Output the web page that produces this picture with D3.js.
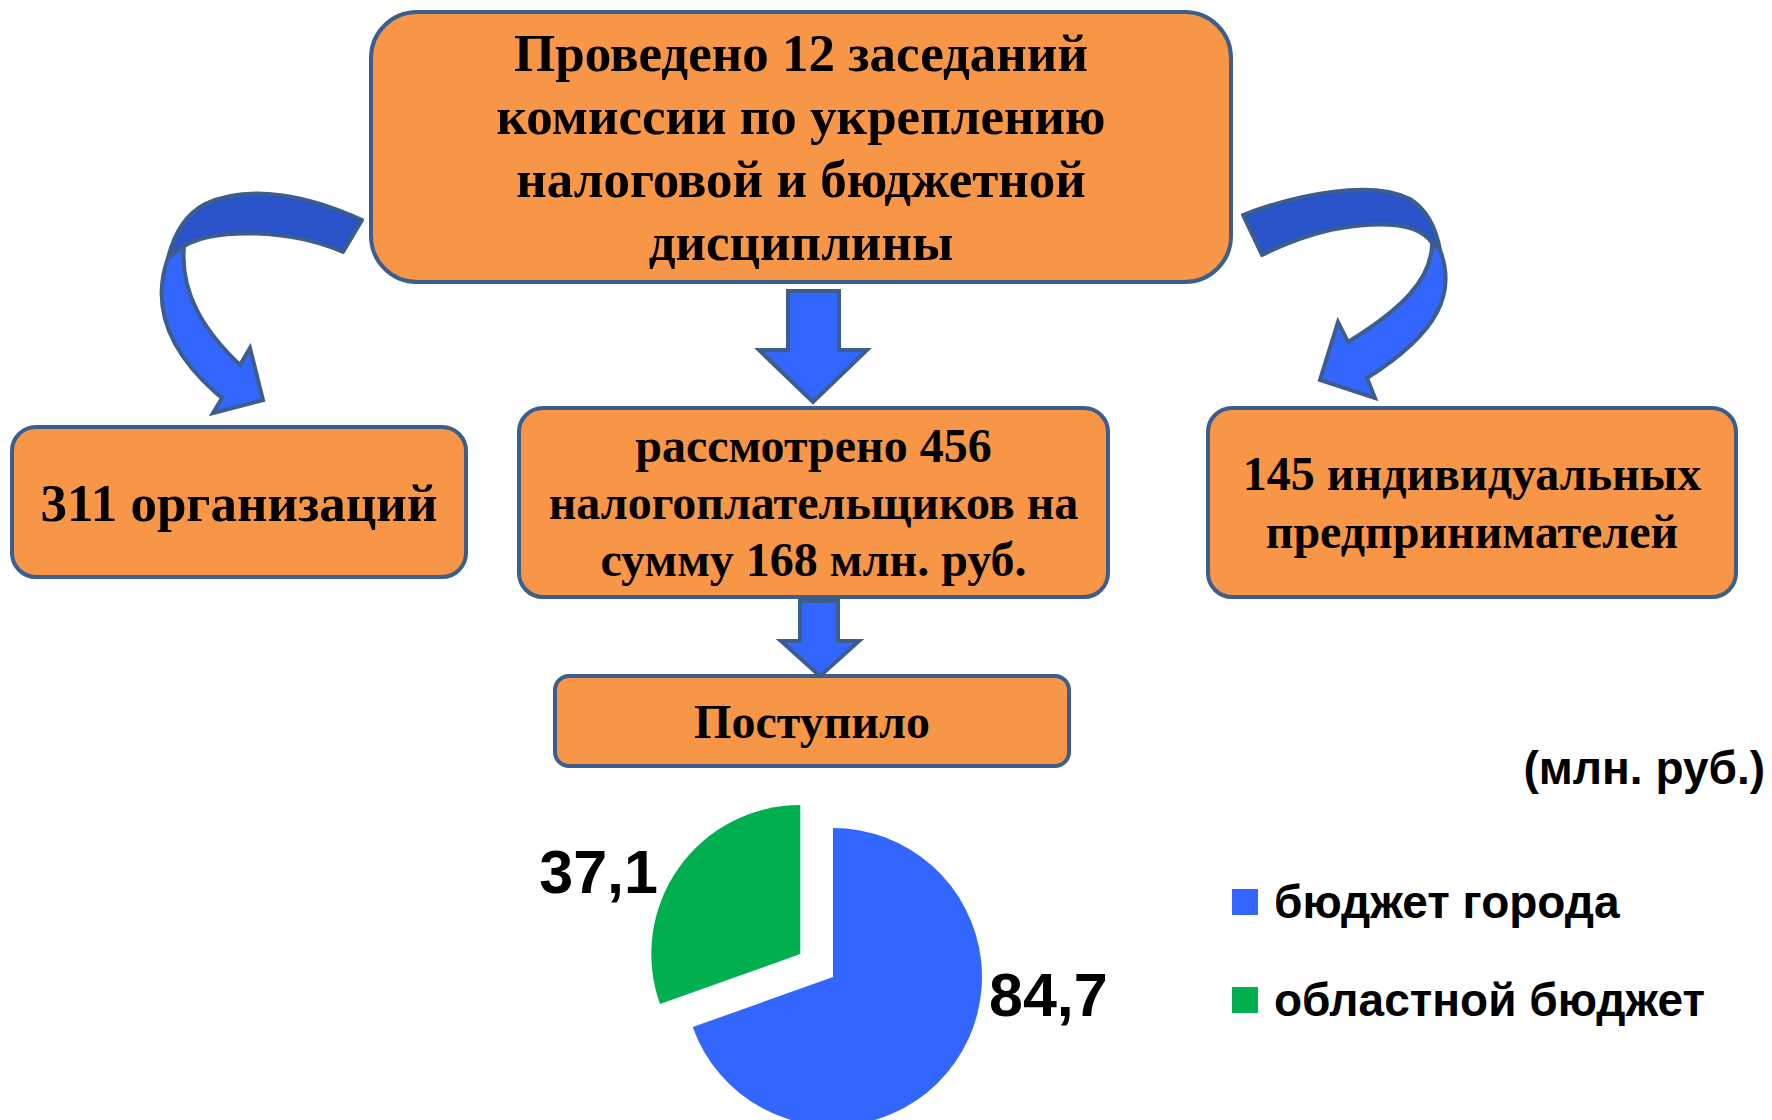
<html>
<head>
<meta charset="utf-8">
<script src="https://cdn.jsdelivr.net/npm/d3@7/dist/d3.min.js"></script>
<style>
  body { margin: 0; background: #fff; }
  svg { display: block; }
</style>
</head>
<body>
<svg width="1772" height="1120"></svg>
<script>
// data
var topText = ["Проведено 12 заседаний", "комиссии по укреплению", "налоговой и бюджетной", "дисциплины"]
var leftText = ["311 организаций"]
var midText = ["рассмотрено 456", "налогоплательщиков на", "сумму 168 млн. руб."]
var rightText = ["145 индивидуальных", "предпринимателей"]
var bottomText = ["Поступило"]
var pieLabels = ["бюджет города", "областной бюджет"]
var pieValues = [84.7, 37.1]
var pieValueText = ["84,7", "37,1"]
var pieColors = ["#3366ff", "#00b050"]
var unitText = "(млн. руб.)"

var svg = d3.select('svg')
var orange = '#f79646', edge = '#3b5e8c'

// boxes: x, y, w, h, rx, lines, font size, line step
var boxes = [
  {x: 371, y: 12, w: 860, h: 270, rx: 46, lines: topText, fs: 53, step: 63},
  {x: 12, y: 427, w: 454, h: 150, rx: 24, lines: leftText, fs: 53, step: 56},
  {x: 519, y: 408, w: 589, h: 189, rx: 24, lines: midText, fs: 48, step: 57},
  {x: 1208, y: 408, w: 528, h: 189, rx: 24, lines: rightText, fs: 48, step: 58},
  {x: 555, y: 676, w: 514, h: 90, rx: 14, lines: bottomText, fs: 48, step: 56}
]

var g = svg.selectAll('g.box')
  .data(boxes)
  .enter()
  .append('g')
  .attr('class', 'box')

g.append('rect')
  .attr('x', function(d){ return d.x })
  .attr('y', function(d){ return d.y })
  .attr('width', function(d){ return d.w })
  .attr('height', function(d){ return d.h })
  .attr('rx', function(d){ return d.rx })
  .attr('fill', orange)
  .attr('stroke', edge)
  .attr('stroke-width', 4)

g.each(function(d){
  var n = d.lines.length
  var cy = d.y + d.h / 2
  d3.select(this).selectAll('text')
    .data(d.lines)
    .enter()
    .append('text')
    .text(function(t){ return t })
    .attr('x', d.x + d.w / 2)
    .attr('y', function(t, i){ return cy + (i - (n - 1) / 2) * d.step })
    .attr('dy', '0.35em')
    .attr('text-anchor', 'middle')
    .attr('font-family', 'Liberation Serif, Times New Roman, serif')
    .attr('font-weight', 'bold')
    .attr('font-size', d.fs)
    .attr('fill', '#000')
})

// straight arrows
function downArrow(x0, x1, top, hx0, hx1, hy, tip){
  var mx = (hx0 + hx1) / 2
  return 'M' + x0 + ',' + top + 'L' + x1 + ',' + top + 'L' + x1 + ',' + hy +
    'L' + hx1 + ',' + hy + 'L' + mx + ',' + tip + 'L' + hx0 + ',' + hy +
    'L' + x0 + ',' + hy + 'Z'
}
svg.append('path')
  .attr('d', downArrow(788, 839, 291, 759, 867, 350, 402))
  .attr('fill', '#3366ff').attr('stroke', edge).attr('stroke-width', 4)
svg.append('path')
  .attr('d', downArrow(800, 838, 601, 781, 859, 641, 676))
  .attr('fill', '#3366ff').attr('stroke', edge).attr('stroke-width', 4)

// curved arrows (back part darker, front part lighter)
var curved = [
  {back: 'M362,220 C310,196 250,183 205,204 C186,214 174,234 168,258 L184,246 C215,228 290,229 343,252 Z',
   front: 'M168,258 C153,300 162,345 216,393 L222,398 L213,413 L263,400 L250,348 L240,365 C203,330 180,292 184,246 Z'},
  {back: 'M1243,215 C1300,193 1372,180 1410,199 C1426,209 1436,228 1440,250 L1432,243 C1420,225 1390,219 1330,230 C1300,237 1280,246 1262,255 Z',
   front: 'M1440,250 C1456,292 1440,332 1367,378 L1375,398 L1320,380 L1338,322 L1348,342 C1400,310 1432,280 1432,243 Z'}
]
curved.forEach(function(c){
  svg.append('path').attr('d', c.back)
    .attr('fill', '#2a53c9').attr('stroke', edge).attr('stroke-width', 4).attr('stroke-linejoin', 'round')
  svg.append('path').attr('d', c.front)
    .attr('fill', '#3366ff').attr('stroke', edge).attr('stroke-width', 4).attr('stroke-linejoin', 'miter')
})

// pie
var cx = 833, cy = 977, r = 149, explode = 40
var pie = d3.pie().sort(null)(pieValues)
var arc = d3.arc().innerRadius(0).outerRadius(r)

svg.selectAll('path.slice')
  .data(pie)
  .enter()
  .append('path')
  .attr('class', 'slice')
  .attr('d', arc)
  .attr('fill', function(d, i){ return pieColors[i] })
  .attr('transform', function(d, i){
    var off = i == 1 ? explode : 0
    var a = (d.startAngle + d.endAngle) / 2
    return 'translate(' + (cx + off * Math.sin(a)) + ',' + (cy - off * Math.cos(a)) + ')'
  })

var labelPos = [
  {x: cx + r + 7, y: cy + 39, anchor: 'start'},
  {x: cx - 175, y: cy - 84, anchor: 'end'}
]
svg.selectAll('text.val')
  .data(pieValueText)
  .enter()
  .append('text')
  .attr('class', 'val')
  .text(function(d){ return d })
  .attr('x', function(d, i){ return labelPos[i].x })
  .attr('y', function(d, i){ return labelPos[i].y })
  .attr('text-anchor', function(d, i){ return labelPos[i].anchor })
  .attr('font-family', 'Liberation Sans, Arial, sans-serif')
  .attr('font-weight', 'bold')
  .attr('font-size', 61)

// legend
var leg = svg.selectAll('g.leg')
  .data(pieLabels)
  .enter()
  .append('g')
  .attr('class', 'leg')
  .attr('transform', function(d, i){ return 'translate(1232,' + (902 + i * 98) + ')' })
leg.append('rect')
  .attr('x', 0).attr('y', -13).attr('width', 26).attr('height', 26)
  .attr('fill', function(d, i){ return pieColors[i] })
leg.append('text')
  .text(function(d){ return d })
  .attr('x', 42).attr('y', 0).attr('dy', '0.35em')
  .attr('font-family', 'Liberation Sans, Arial, sans-serif')
  .attr('font-weight', 'bold')
  .attr('font-size', 46)
  .attr('fill', '#000')

svg.append('text')
  .text(unitText)
  .attr('x', 1765).attr('y', 768).attr('dy', '0.35em')
  .attr('text-anchor', 'end')
  .attr('font-family', 'Liberation Sans, Arial, sans-serif')
  .attr('font-weight', 'bold')
  .attr('font-size', 46)
  .attr('fill', '#000')
</script>
</body>
</html>
